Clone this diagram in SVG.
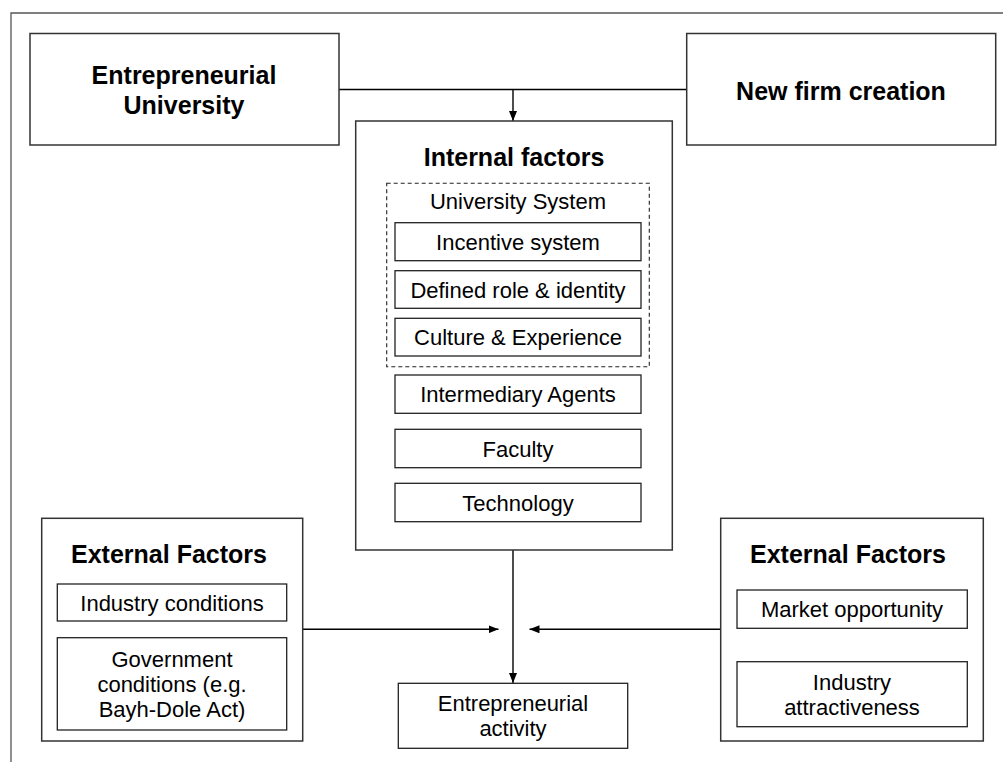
<svg xmlns="http://www.w3.org/2000/svg" width="1003" height="762" viewBox="0 0 1003 762">
<defs>
<marker id="arr" markerUnits="userSpaceOnUse" markerWidth="10" markerHeight="8" refX="10" refY="4" orient="auto">
<path d="M0,0 L10,4 L0,8 z" fill="#000"/>
</marker>
<style>
.box{fill:#fff;stroke:#333;stroke-width:1.5}
.ibox{fill:#fff;stroke:#222;stroke-width:1.3}
.dash{fill:none;stroke:#222;stroke-width:1.1;stroke-dasharray:4,3}
.frame{fill:none;stroke:#555;stroke-width:1.3}
.conn{fill:none;stroke:#000;stroke-width:1.4}
.b{font-family:"Liberation Sans",Arial,sans-serif;font-weight:bold;font-size:25px;fill:#000;text-anchor:middle}
.t{font-family:"Liberation Sans",Arial,sans-serif;font-size:22px;fill:#000;text-anchor:middle}
</style>
</defs>
<rect width="1003" height="762" fill="#fff"/>
<g id="frame">
<path class="frame" d="M11,762 L11,13 L1003,13"/>
</g>
<g id="connectors">
<path class="conn" d="M339,89.5 L686.7,89.5"/>
<path class="conn" d="M513,89.5 L513,121" marker-end="url(#arr)"/>
<path class="conn" d="M513,550 L513,683" marker-end="url(#arr)"/>
<path class="conn" d="M302.7,629.3 L498.5,629.3" marker-end="url(#arr)"/>
<path class="conn" d="M720.7,629.3 L529.5,629.3" marker-end="url(#arr)"/>
</g>
<g id="entrepreneurial-university">
<rect class="box" x="30" y="33.5" width="309" height="111.5"/>
<text class="b" x="184" y="84">Entrepreneurial</text>
<text class="b" x="184" y="114">University</text>
</g>
<g id="new-firm-creation">
<rect class="box" x="686.7" y="33.5" width="309" height="111.5"/>
<text class="b" x="841" y="100">New firm creation</text>
</g>
<g id="internal-factors">
<rect class="box" x="355.7" y="121" width="316.6" height="429"/>
<text class="b" x="514" y="166">Internal factors</text>
</g>
<g id="university-system">
<rect class="dash" x="386.7" y="183.3" width="262.6" height="183.4"/>
<text class="t" x="518" y="209">University System</text>
</g>
<g id="incentive-system">
<rect class="ibox" x="395" y="222.7" width="246" height="38"/>
<text class="t" x="518" y="249.5">Incentive system</text>
</g>
<g id="defined-role">
<rect class="ibox" x="395" y="270.7" width="246" height="37.6"/>
<text class="t" x="518" y="297.5">Defined role &amp; identity</text>
</g>
<g id="culture-experience">
<rect class="ibox" x="395" y="318.3" width="246" height="37.7"/>
<text class="t" x="518" y="345">Culture &amp; Experience</text>
</g>
<g id="intermediary-agents">
<rect class="ibox" x="395" y="375" width="246" height="38.3"/>
<text class="t" x="518" y="402">Intermediary Agents</text>
</g>
<g id="faculty">
<rect class="ibox" x="395" y="429.3" width="246" height="38.4"/>
<text class="t" x="518" y="456.5">Faculty</text>
</g>
<g id="technology">
<rect class="ibox" x="395" y="483.3" width="246" height="38.4"/>
<text class="t" x="518" y="510.5">Technology</text>
</g>
<g id="external-factors-left">
<rect class="box" x="41.7" y="518.3" width="261" height="222.7"/>
<text class="b" x="169" y="563.3">External Factors</text>
</g>
<g id="industry-conditions">
<rect class="ibox" x="57.3" y="584" width="229.4" height="37"/>
<text class="t" x="172" y="610.5">Industry conditions</text>
</g>
<g id="government-conditions">
<rect class="ibox" x="57.3" y="637.7" width="229.4" height="92.3"/>
<text class="t" x="172" y="667">Government</text>
<text class="t" x="172" y="692">conditions (e.g.</text>
<text class="t" x="172" y="717">Bayh-Dole Act)</text>
</g>
<g id="external-factors-right">
<rect class="box" x="720.7" y="518.3" width="262.6" height="222.7"/>
<text class="b" x="848" y="563.3">External Factors</text>
</g>
<g id="market-opportunity">
<rect class="ibox" x="737" y="590" width="230.3" height="38.3"/>
<text class="t" x="852" y="617">Market opportunity</text>
</g>
<g id="industry-attractiveness">
<rect class="ibox" x="737" y="661.7" width="230.3" height="65"/>
<text class="t" x="852" y="689.5">Industry</text>
<text class="t" x="852" y="714.5">attractiveness</text>
</g>
<g id="entrepreneurial-activity">
<rect class="ibox" x="398.3" y="683.3" width="229.4" height="65"/>
<text class="t" x="513" y="711">Entrepreneurial</text>
<text class="t" x="513" y="736">activity</text>
</g>
</svg>
